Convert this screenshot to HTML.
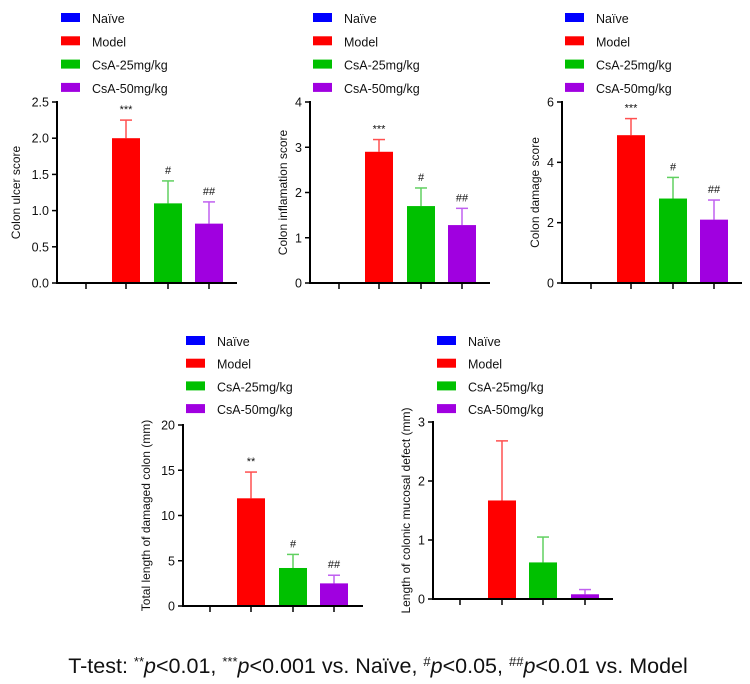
<!DOCTYPE html>
<html><head><meta charset="utf-8"><style>
html,body{margin:0;padding:0;background:#fff;width:750px;height:684px;overflow:hidden}
svg text{font-family:"Liberation Sans",Arial,sans-serif}
</style></head><body>
<svg id="s" width="750" height="684" xmlns="http://www.w3.org/2000/svg">
<text x="378" y="673" text-anchor="middle" font-size="21.5" fill="#111">T-test: <tspan baseline-shift="super" font-size="13">**</tspan><tspan font-style="italic">p</tspan>&lt;0.01, <tspan baseline-shift="super" font-size="13">***</tspan><tspan font-style="italic">p</tspan>&lt;0.001 vs. Naïve, <tspan baseline-shift="super" font-size="13">#</tspan><tspan font-style="italic">p</tspan>&lt;0.05, <tspan baseline-shift="super" font-size="13">##</tspan><tspan font-style="italic">p</tspan>&lt;0.01 vs. Model</text>
</svg>
<script>
const s=document.getElementById('s');const NS='http://www.w3.org/2000/svg';
function el(t,a,txt){const e=document.createElementNS(NS,t);for(const k in a)e.setAttribute(k,a[k]);if(txt!==undefined)e.textContent=txt;s.appendChild(e);return e;}
const cols=['#0000ff','#ff0000','#00c000','#a000e0'];
const errc=['#0000ff','#ff5050','#60d060','#c060f0'];
const names=['Naïve','Model','CsA-25mg/kg','CsA-50mg/kg'];
function chart(o){
 for(let i=0;i<4;i++){el('rect',{x:o.lx,y:o.ly+i*o.lg-5,width:19,height:9,fill:cols[i]});
  el('text',{x:o.lx+31,y:o.ly+i*o.lg+5,'font-size':12.5,fill:'#111'},names[i]);}
 const sc=(o.y0-o.ytop)/o.max;const Y=v=>o.y0-v*sc;
 el('line',{x1:o.ax,y1:o.ytop-1,x2:o.ax,y2:o.y0+1,stroke:'#000','stroke-width':2});
 el('line',{x1:o.ax-1,y1:o.y0,x2:o.axe,y2:o.y0,stroke:'#000','stroke-width':2});
 o.ticks.forEach(t=>{el('line',{x1:o.ax-5,y1:Y(t),x2:o.ax,y2:Y(t),stroke:'#000','stroke-width':1.5});
  el('text',{x:o.ax-8,y:Y(t)+4.5,'font-size':12.5,'text-anchor':'end',fill:'#111'},o.fmt(t));});
 o.cx.forEach(c=>el('line',{x1:c,y1:o.y0,x2:c,y2:o.y0+6,stroke:'#000','stroke-width':1.5}));
 el('text',{transform:`translate(${o.labx},${(o.y0+o.ytop)/2}) rotate(-90)`,'text-anchor':'middle','font-size':12,fill:'#111'},o.label);
 for(let i=1;i<4;i++){const c=o.cx[i];const v=o.v[i],e=o.e[i];
  el('line',{x1:c,y1:Y(v),x2:c,y2:Y(e),stroke:errc[i],'stroke-width':1.5});
  el('line',{x1:c-6,y1:Y(e),x2:c+6,y2:Y(e),stroke:errc[i],'stroke-width':1.5});
  el('rect',{x:c-14,y:Y(v),width:28,height:Y(0)-Y(v)-1,fill:cols[i]});
  if(o.sig[i])el('text',{x:c,y:Y(e)-7,'text-anchor':'middle','font-size':11,fill:'#111'},o.sig[i]);}
}
chart({lx:61,ly:18,lg:23.3,ax:57,axe:237,y0:283,ytop:102,max:2.5,ticks:[0,0.5,1,1.5,2,2.5],fmt:t=>t.toFixed(1),
 cx:[86,126,168,209],v:[0,2,1.1,0.82],e:[0,2.25,1.41,1.12],sig:['','***','#','##'],label:'Colon ulcer score',labx:20});
chart({lx:313,ly:18,lg:23.3,ax:310,axe:490,y0:283,ytop:102,max:4,ticks:[0,1,2,3,4],fmt:t=>t,
 cx:[339,379,421,462],v:[0,2.9,1.7,1.28],e:[0,3.17,2.1,1.65],sig:['','***','#','##'],label:'Colon inflamation score',labx:287});
chart({lx:565,ly:18,lg:23.3,ax:562,axe:742,y0:283,ytop:102,max:6,ticks:[0,2,4,6],fmt:t=>t,
 cx:[591,631,673,714],v:[0,4.9,2.8,2.1],e:[0,5.45,3.5,2.75],sig:['','***','#','##'],label:'Colon damage score',labx:539});
chart({lx:186,ly:341,lg:22.7,ax:183,axe:363,y0:606,ytop:425,max:20,ticks:[0,5,10,15,20],fmt:t=>t,
 cx:[210,251,293,334],v:[0,11.9,4.2,2.5],e:[0,14.8,5.7,3.4],sig:['','**','#','##'],label:'Total length of damaged colon (mm)',labx:150});
chart({lx:437,ly:341,lg:22.7,ax:433,axe:613,y0:599,ytop:422,max:3,ticks:[0,1,2,3],fmt:t=>t,
 cx:[460,502,543,585],v:[0,1.67,0.62,0.08],e:[0,2.68,1.05,0.16],sig:['','','',''],label:'Length of colonic mucosal defect (mm)',labx:410});
</script>
</body></html>
